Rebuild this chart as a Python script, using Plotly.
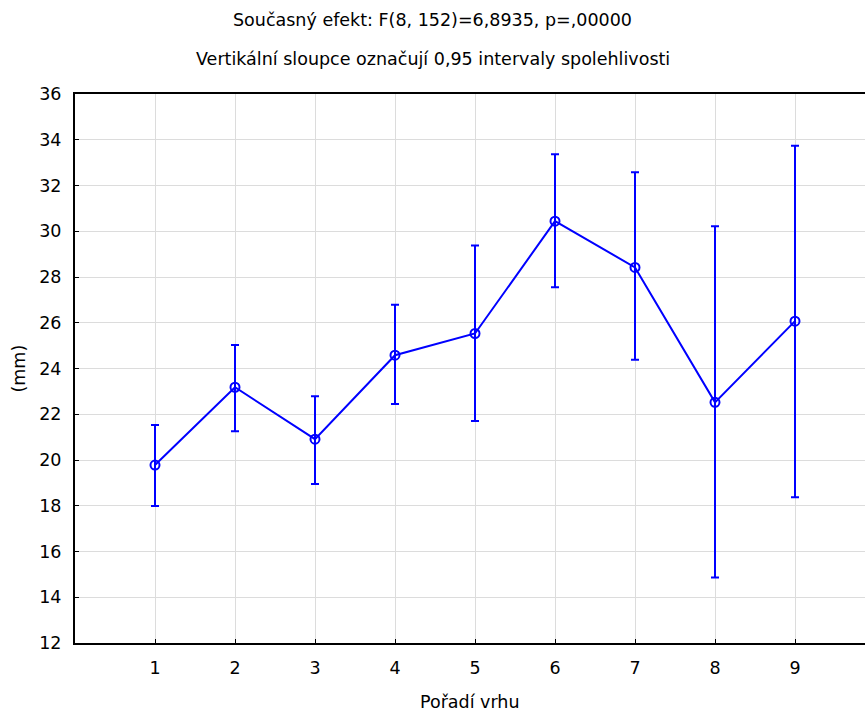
import plotly.graph_objects as go

order = [1, 2, 3, 4, 5, 6, 7, 8, 9]
means = [19.78, 23.18, 20.91, 24.58, 25.53, 30.44, 28.42, 22.52, 26.07]
upper = [21.53, 25.03, 22.79, 26.79, 29.38, 33.37, 32.58, 30.22, 33.74]
lower = [17.99, 21.26, 18.95, 22.45, 21.71, 27.55, 24.38, 14.86, 18.37]
y_ticks = [12, 14, 16, 18, 20, 22, 24, 26, 28, 30, 32, 34, 36]

title1 = "Současný efekt: F(8, 152)=6,8935, p=,00000"
title2 = "Vertikální sloupce označují 0,95 intervaly spolehlivosti"
x_title = "Pořadí vrhu"
y_title = "(mm)"

err_plus = [u - m for u, m in zip(upper, means)]
err_minus = [m - l for m, l in zip(means, lower)]

font_family = "DejaVu Sans, Liberation Sans, Arial, sans-serif"
FS = 17.5

W, H = 865, 713
ML, MT, MR, MB = 75, 94, 0, 70
PW = W - ML - MR

fig = go.Figure()
fig.add_trace(go.Scatter(
    x=order, y=means, mode="lines+markers",
    line=dict(color="#0000ff", width=2),
    marker=dict(symbol="circle-open", size=9, color="#0000ff", line=dict(width=2, color="#0000ff")),
    error_y=dict(type="data", symmetric=False, array=err_plus, arrayminus=err_minus,
                 color="#0000ff", thickness=2, width=4),
    showlegend=False,
))

fig.update_layout(
    width=W, height=H,
    margin=dict(l=ML, r=MR, t=MT, b=MB, autoexpand=False),
    plot_bgcolor="white", paper_bgcolor="white",
    font=dict(family=font_family, size=FS, color="black"),
    xaxis=dict(
        range=[0, 9.875], tickvals=order, ticktext=[str(v) for v in order],
        showgrid=True, gridcolor="#dcdcdc", gridwidth=1,
        showline=True, linecolor="black", linewidth=2, mirror=True,
        ticks="inside", ticklen=4, tickcolor="black", tickwidth=1,
        zeroline=False, automargin=False, ticklabelstandoff=8,
        tickfont=dict(size=FS),
    ),
    yaxis=dict(
        range=[12, 36], tickvals=y_ticks,
        showgrid=True, gridcolor="#dcdcdc", gridwidth=1,
        showline=True, linecolor="black", linewidth=2,
        ticks="inside", ticklen=4, tickcolor="black", tickwidth=1,
        zeroline=False, automargin=False, ticklabelstandoff=8,
        tickfont=dict(size=FS),
    ),
    annotations=[
        dict(text=title1, xref="paper", yref="paper", x=(432.5 - ML) / PW, y=1,
             yshift=74, showarrow=False, font=dict(size=FS), xanchor="center", yanchor="middle"),
        dict(text=title2, xref="paper", yref="paper", x=(432.5 - ML) / PW, y=1,
             yshift=35, showarrow=False, font=dict(size=FS), xanchor="center", yanchor="middle"),
        dict(text=x_title, xref="paper", yref="paper", x=0.5, y=0,
             yshift=-59, showarrow=False, font=dict(size=FS), xanchor="center", yanchor="middle"),
        dict(text=y_title, xref="paper", yref="paper", x=0, y=0.5, textangle=-90,
             xshift=-57, showarrow=False, font=dict(size=FS), xanchor="center", yanchor="middle"),
    ],
)

fig.write_html(
    "out.html",
    config={"displayModeBar": False},
    post_script="document.body.style.margin='0';document.body.style.overflow='hidden';",
)
